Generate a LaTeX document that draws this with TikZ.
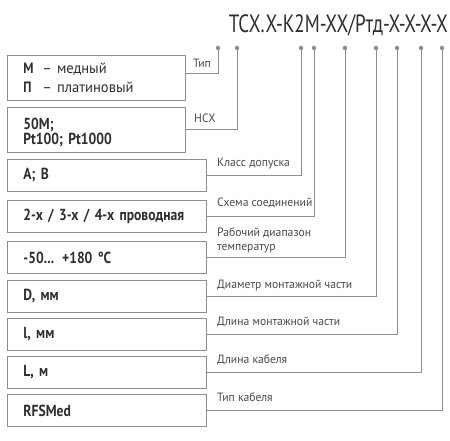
\documentclass[tikz,border=0pt]{standalone}
\usepackage{fontspec}
\setmainfont{PT Sans}[FakeStretch=0.85]
\newfontfamily\titlefont{PT Sans}[FakeStretch=0.76]
\newfontfamily\labfont{PT Sans}[FakeStretch=0.97]
\usepackage{tikz}
\definecolor{ink}{HTML}{2E2E2E}
\definecolor{soft}{HTML}{4A4A4A}
\definecolor{frame}{HTML}{8E8E8E}
\tikzset{
  box/.style={draw=frame, line width=0.9pt, anchor=north west, inner xsep=16pt, inner ysep=0pt,
    text width=167pt, minimum height=32pt, text=ink, align=left,
    font=\bfseries\fontsize{16}{15}\selectfont},
  widebox/.style={box, text width=146pt, minimum height=45pt},
  wire/.style={draw=frame, line width=0.9pt},
  lab/.style={text=soft, font=\labfont\fontsize{12}{14}\selectfont, anchor=base west, inner sep=0pt, align=left},
  dot/.style={circle, fill=frame, inner sep=0pt, minimum size=4.5pt},
}

\begin{document}
\begin{tikzpicture}[x=1pt, y=-1pt]
  \useasboundingbox (0,0) rectangle (450,441);

  \node[text=ink, font=\titlefont\fontsize{25}{28}\selectfont, anchor=base east, inner sep=0pt]
    (title) at (448,33) {ТСХ.Х-К2М-ХХ/Ртд-Х-Х-Х-Х};

  \foreach \x [count=\i] in {218,237,301,314,345,376,397,421,442}
    \node[dot] (d\i) at (\x,48) {};

  \node[widebox, font=\fontsize{15}{19}\selectfont] (type) at (7,55)
    {\makebox[19pt][l]{\bfseries М}{\labfont – медный}\\ \makebox[19pt][l]{\bfseries П}{\labfont – платиновый}};
  \node[widebox, font=\bfseries\fontsize{16}{15}\selectfont] (nsh) at (7,107) {\rule{0pt}{17pt}50М;\\ Pt100; Pt1000};
  \node[box] (cls) at (7,159) {A; B};
  \node[box] (conn) at (7,200) {2-х / 3-х / 4-х проводная};
  \node[box] (temp) at (7,241) {-50... +180 °C};
  \node[box] (diam) at (7,280) {D, мм};
  \node[box] (len) at (7,318) {l, мм};
  \node[box] (cab) at (7,356) {L, м};
  \node[box] (ctype) at (7,394) {RFSMed};

  \draw[wire] ([yshift=4pt]type.east) -| (d1);
  \draw[wire] (nsh.east) -| (d2);
  \draw[wire] (cls.east) -| (d3);
  \draw[wire] (conn.east) -| (d4);
  \draw[wire] (temp.east) -| (d5);
  \draw[wire] (diam.east) -| (d6);
  \draw[wire] (len.east) -| (d7);
  \draw[wire] (cab.east) -| (d8);
  \draw[wire] (ctype.east) -| (d9);

  \node[lab] (ltype) at (193,68) {Тип};
  \node[lab] (lnsh) at (194,123) {НСХ};
  \node[lab] (lcls) at (217,167) {Класс допуска};
  \node[lab] (lconn) at (217,206) {Схема соединений};
  \node[lab] (ltemp) at (217,250) {Рабочий диапазон\\температур};
  \node[lab] (ldiam) at (217,288) {Диаметр монтажной части};
  \node[lab] (llen) at (217,325) {Длина монтажной части};
  \node[lab] (lcab) at (217,363) {Длина кабеля};
  \node[lab] (lctype) at (217,401) {Тип кабеля};
\end{tikzpicture}
\end{document}
